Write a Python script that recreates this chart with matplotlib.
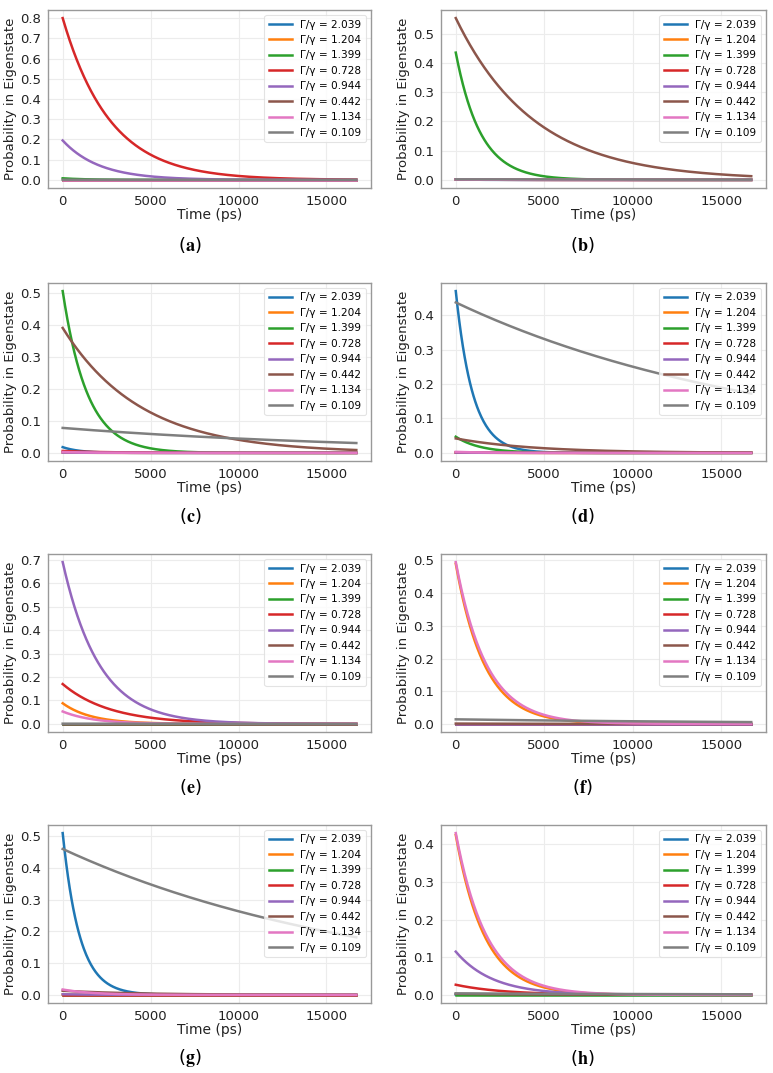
import numpy as np
import matplotlib
matplotlib.use("Agg")
import matplotlib.pyplot as plt
from matplotlib.ticker import MultipleLocator

plt.rcParams['font.family'] = ['DejaVu Sans']
plt.rcParams['mathtext.fontset'] = 'stix'

# Legend ratios Γ/γ for each eigenstate (legend order)
gamma_ratios = [2.039, 1.204, 1.399, 0.728, 0.944, 0.442, 1.134, 0.109]
colors = ['#1f77b4', '#ff7f0e', '#2ca02c', '#d62728',
          '#9467bd', '#8c564b', '#e377c2', '#7f7f7f']
# Decay lifetimes (ps), legend order
lifetime_ps = [960, 1630, 1400, 2690, 2075, 4430, 1730, 17960]
t_max_ps = 16700

# Initial populations at t = 0 for each panel, legend order
init_a = [0.000, 0.000, 0.008, 0.800, 0.195, 0.000, 0.000, 0.001]
init_b = [0.002, 0.002, 0.435, 0.002, 0.002, 0.553, 0.002, 0.002]
init_c = [0.018, 0.001, 0.505, 0.006, 0.001, 0.390, 0.003, 0.078]
init_d = [0.470, 0.001, 0.047, 0.001, 0.001, 0.042, 0.003, 0.437]
init_e = [0.000, 0.088, 0.000, 0.170, 0.690, 0.000, 0.053, 0.001]
init_f = [0.000, 0.490, 0.000, 0.000, 0.000, 0.001, 0.495, 0.014]
init_g = [0.510, 0.001, 0.000, 0.000, 0.002, 0.013, 0.017, 0.460]
init_h = [0.001, 0.425, 0.000, 0.027, 0.115, 0.003, 0.430, 0.004]
panel_inits = [init_a, init_b, init_c, init_d, init_e, init_f, init_g, init_h]
panel_labels = ['a', 'b', 'c', 'd', 'e', 'f', 'g', 'h']

W, H = 773, 1073
fig = plt.figure(figsize=(W / 100, H / 100), dpi=100)

col_lr = [(48, 371), (441, 766)]
caption_x = [190, 582]
row_top = [10, 283, 554, 825]
ax_h = 178
caption_y = [245, 516, 787, 1058]

t = np.linspace(0, t_max_ps, 500)

for i, inits in enumerate(panel_inits):
    r, c = divmod(i, 2)
    l, rr = col_lr[c]
    top = row_top[r]
    ax = fig.add_axes([l / W, 1 - (top + ax_h) / H, (rr - l) / W, ax_h / H])
    for g, a0, tau, col in zip(gamma_ratios, inits, lifetime_ps, colors):
        ax.plot(t, a0 * np.exp(-t / tau), color=col, lw=1.8,
                label=f'Γ/γ = {g:.3f}')
    ax.grid(True, color='#ececec', lw=0.8)
    ax.set_axisbelow(True)
    for s in ax.spines.values():
        s.set_color('#999999')
        s.set_linewidth(1.0)
    ax.tick_params(labelsize=9.5, length=0, pad=5, colors='#222222')
    ax.set_xticks([0, 5000, 10000, 15000])
    ax.yaxis.set_major_locator(MultipleLocator(0.1))
    ax.set_xlabel('Time (ps)', fontsize=10, color='#222222', labelpad=0)
    ax.set_ylabel('Probability in Eigenstate', fontsize=9.5, color='#222222', labelpad=2)
    leg = ax.legend(loc='upper right', fontsize=7.6, frameon=True,
                    labelspacing=0.52, handlelength=2.2, borderaxespad=0.5)
    leg.get_frame().set_edgecolor('#dddddd')
    leg.get_frame().set_linewidth(0.8)
    fig.text(caption_x[c] / W, 1 - caption_y[r] / H,
             r'($\mathbf{' + panel_labels[i] + r'}$)',
             ha='center', va='center', fontsize=13, color='black')

fig.savefig('out.png', dpi=100)
